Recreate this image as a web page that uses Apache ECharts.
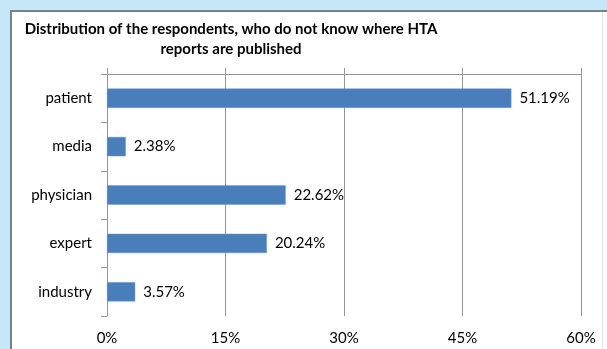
<!DOCTYPE html>
<html>
<head>
<meta charset="utf-8">
<script src="https://cdn.jsdelivr.net/npm/echarts@6/dist/echarts.min.js"></script>
<style>
  html, body { margin: 0; padding: 0; background: #c6e7f8; }
  #chart { width: 607px; height: 349px; }
</style>
</head>
<body>
<div id="chart"></div>
<script>
// Respondent groups (top to bottom) and their shares in percent
const categories = ['patient', 'media', 'physician', 'expert', 'industry'];
const shares = [51.19, 2.38, 22.62, 20.24, 3.57];
const titleLines = ['Distribution of the respondents, who do not know where HTA', 'reports are published'];

const FONT = 'Lato, "Open Sans", sans-serif';
const gridColor = '#969696';

const chart = echarts.init(document.getElementById('chart'), null, { renderer: 'canvas' });

chart.setOption({
  animation: false,
  backgroundColor: 'transparent',
  graphic: [
    // white panel with a grey frame on the top and left
    { type: 'rect', z: -10, shape: { x: 10, y: 10, width: 597, height: 339 }, style: { fill: '#ffffff' } },
    { type: 'line', z: -9, shape: { x1: 11, y1: 10, x2: 11, y2: 349 }, style: { stroke: '#7f7f7f', lineWidth: 2 } },
    { type: 'line', z: -9, shape: { x1: 10, y1: 11, x2: 607, y2: 11 }, style: { stroke: '#7f7f7f', lineWidth: 2 } },
    { type: 'line', z: -9, shape: { x1: 602.5, y1: 12, x2: 602.5, y2: 349 }, style: { stroke: '#e4e4e4', lineWidth: 1 } },
    {
      type: 'text', x: 231, y: 19,
      style: {
        text: titleLines.join('\n'), align: 'center', verticalAlign: 'top',
        font: 'bold 15px ' + FONT, fill: '#000', lineHeight: 20
      }
    }
  ],
  grid: { left: 107, top: 74, width: 474, height: 242, containLabel: false },
  xAxis: [
    {
      type: 'value', min: 0, max: 60, interval: 15, position: 'bottom',
      axisLine: { show: false }, axisTick: { show: false },
      axisLabel: { formatter: '{value}%', color: '#000', fontFamily: FONT, fontSize: 15, margin: 15 },
      splitLine: { show: true, lineStyle: { color: gridColor, width: 1 } }
    },
    {
      type: 'value', min: 0, max: 60, interval: 15, position: 'top',
      axisLine: { show: true, lineStyle: { color: gridColor, width: 1 } },
      axisTick: { show: true, length: 6, lineStyle: { color: gridColor } },
      axisLabel: { show: false }, splitLine: { show: false }
    }
  ],
  yAxis: {
    type: 'category', data: categories, inverse: true,
    axisLine: { show: true, lineStyle: { color: gridColor, width: 1 } },
    axisTick: { show: true, length: 6, lineStyle: { color: gridColor } },
    axisLabel: { color: '#000', fontFamily: FONT, fontSize: 15, margin: 15 },
    splitLine: { show: false }
  },
  series: [{
    type: 'bar', data: shares, xAxisIndex: 0, barWidth: '40%',
    itemStyle: { color: '#4a7ebb', borderColor: '#6f98cc', borderWidth: 0.5 },
    label: {
      show: true, position: 'right', distance: 8,
      formatter: p => p.value.toFixed(2) + '%',
      color: '#000', fontFamily: FONT, fontSize: 15
    }
  }]
});
</script>
</body>
</html>
